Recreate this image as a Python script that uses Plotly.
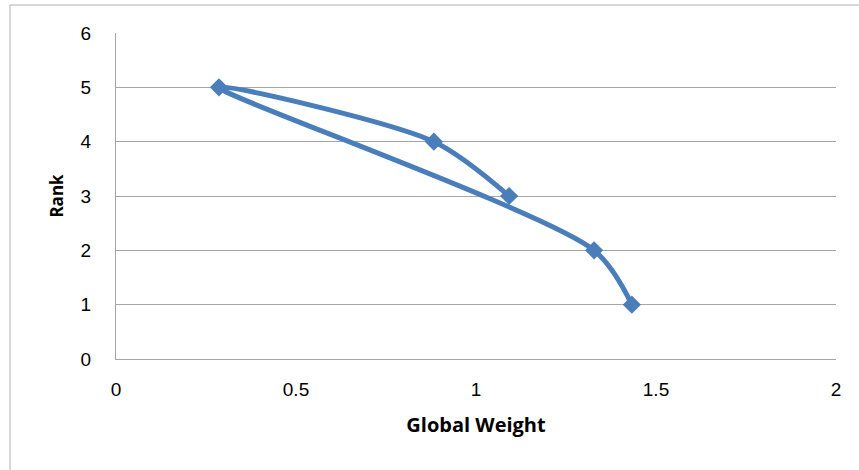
import plotly.graph_objects as go

# Data (series order as plotted, smooth line)
global_weight = [1.433, 1.328, 0.286, 0.883, 1.092]
rank = [1, 2, 5, 4, 3]

x_ticks = [0, 0.5, 1, 1.5, 2]
x_tick_text = ["0", "0.5", "1", "1.5", "2"]
y_ticks = [0, 1, 2, 3, 4, 5, 6]

line_color = "#4a7ebb"
grid_color = "#a6a6a6"
tick_font = "Liberation Sans, Arial, sans-serif"
title_font = "Open Sans, Liberation Sans, sans-serif"

fig = go.Figure()
fig.add_trace(go.Scatter(
    x=global_weight, y=rank,
    mode="lines+markers",
    line=dict(color=line_color, width=5, shape="spline", smoothing=0.8),
    marker=dict(symbol="diamond", size=14, color=line_color),
    showlegend=False,
))

L, T, R, B = 116, 33, 23, 111
pw, ph = 859 - L - R, 470 - T - B

fig.update_layout(
    width=859, height=470,
    margin=dict(l=L, r=R, t=T, b=B),
    paper_bgcolor="white",
    plot_bgcolor="white",
    font=dict(family=tick_font, size=19, color="#000000"),
    xaxis=dict(
        range=[0, 2], tickvals=x_ticks, ticktext=x_tick_text,
        showgrid=False, zeroline=False,
        showline=True, linecolor=grid_color, linewidth=1,
        ticks="", ticklabelstandoff=13,
        title=dict(text="<b>Global Weight</b>", standoff=19,
                   font=dict(family=title_font, size=20)),
        fixedrange=True,
    ),
    yaxis=dict(
        range=[0, 6], tickvals=y_ticks,
        showgrid=True, gridcolor=grid_color, gridwidth=1,
        zeroline=False,
        showline=True, linecolor=grid_color, linewidth=1,
        ticks="", ticklabelstandoff=20,
        title=dict(text="<b>Rank</b>", standoff=12,
                   font=dict(family=title_font, size=17)),
        fixedrange=True,
    ),
    shapes=[
        dict(type="line", xref="paper", yref="paper",
             x0=(10 - L) / pw, x1=1.2, y0=(359 - 5) / ph, y1=(359 - 5) / ph,
             line=dict(color="#b0b0b0", width=1)),
        dict(type="line", xref="paper", yref="paper",
             x0=(10 - L) / pw, x1=(10 - L) / pw, y0=(359 - 5) / ph, y1=-0.5,
             line=dict(color="#b0b0b0", width=1)),
    ],
)

fig.write_html(
    "out.html",
    config={"displayModeBar": False},
    post_script="document.body.style.margin='0';document.body.style.overflow='hidden';",
)
